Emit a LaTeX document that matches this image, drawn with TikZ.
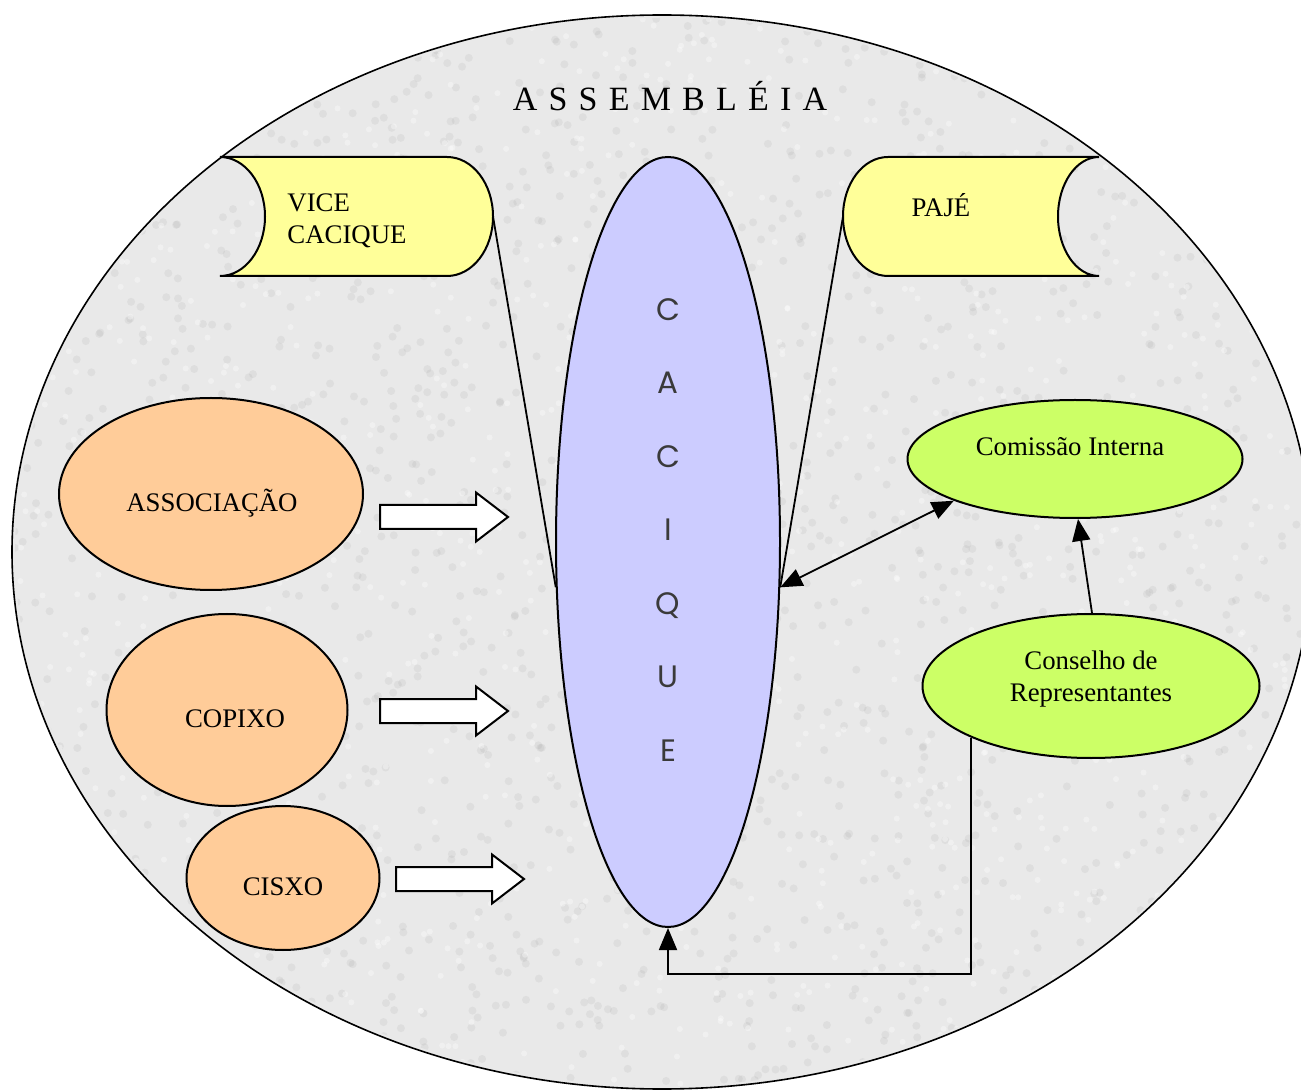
\documentclass[tikz,border=0pt]{standalone}
\usepackage{fontspec}
\setmainfont{Liberation Serif}
\newfontfamily\cacfont{Poppins}
\usetikzlibrary{arrows.meta,shapes.geometric}
\definecolor{assembfill}{HTML}{E9E9E9}
\definecolor{orangefill}{HTML}{FFCC99}
\definecolor{yellowfill}{HTML}{FFFF99}
\definecolor{lavfill}{HTML}{CCCCFF}
\definecolor{greenfill}{HTML}{CCFF66}
\definecolor{cactext}{HTML}{3A3A3A}
\tikzset{
  bigell/.style={ellipse, draw, line width=0.8pt, fill=assembfill, inner sep=0pt},
  orangeell/.style={ellipse, draw, line width=1pt, fill=orangefill, inner sep=0pt},
  greenell/.style={ellipse, draw, line width=1pt, fill=greenfill, inner sep=0pt},
  cacell/.style={ellipse, draw, line width=1pt, fill=lavfill, inner sep=0pt},
  scrollbox/.style={draw, line width=1pt, fill=yellowfill},
  blockarrow/.style={draw, line width=1pt, fill=white, line join=miter},
  conn/.style={draw, line width=0.9pt},
  tri/.tip={Triangle[length=11pt,width=9pt]},
  tip/.style={-tri},
  lbl/.style={font=\fontsize{13.4}{16}\selectfont, inner sep=0pt, align=center},
}
\begin{document}
\begin{tikzpicture}[x=0.5pt,y=-0.5pt]
\useasboundingbox (0,0) rectangle (1301,1090);
\clip (0,0) rectangle (1301,1090);

% assembly
\node[bigell, minimum width=650pt, minimum height=537pt] (assembly) at (662,552) {};
% granite texture
\begin{scope}
  \path[clip] (662,552) ellipse [x radius=647, y radius=534];
  \pgfmathsetseed{7}
  \foreach \i in {1,...,1800}{
    \fill[gray, opacity=0.10] (rnd*1301, rnd*1090) circle (4);
  }
  \foreach \i in {1,...,1200}{
    \fill[white, opacity=0.35] (rnd*1301, rnd*1090) circle (3);
  }
\end{scope}
\node[inner sep=0pt, font=\fontsize{17}{20}\selectfont] (asstext) at (670,96)
  {A\kern5.6pt S\kern5.6pt S\kern5.6pt E\kern5.6pt M\kern5.6pt B\kern5.6pt L\kern5.6pt É\kern5.6pt I\kern5.6pt A};

% anchor coordinates on the scrolls
\coordinate (vcR) at (493,216.5);
\coordinate (pjL) at (843,216.5);

% cacique
\node[cacell, minimum width=112pt, minimum height=385pt] (cac) at (668,542) {};
\node[inner sep=0pt, align=center, text=cactext,
      font=\cacfont\fontsize{15.5}{36.75}\selectfont] (cactxt) at (668,530)
  {C\\A\\C\\I\\Q\\U\\E};

% lines from the scrolls to the cacique
\draw[conn] (vcR) -- (cac.202.5);
\draw[conn] (pjL) -- (cac.-22.5);

% vice cacique scroll
\path[scrollbox] (220,157) -- (447,157)
  .. controls (472.4,157) and (493,183.6) .. (493,216.5)
  .. controls (493,249.4) and (472.4,276) .. (447,276)
  -- (220,276)
  .. controls (244.9,276) and (265,249.4) .. (265,216.5)
  .. controls (265,183.6) and (244.9,157) .. (220,157) -- cycle;
\node[lbl, anchor=west, align=left] (vctext) at (287,221) {VICE\\CACIQUE};

% paje scroll
\path[scrollbox] (888,157) -- (1099,157)
  .. controls (1076.4,157) and (1058,183.6) .. (1058,216.5)
  .. controls (1058,249.4) and (1076.4,276) .. (1099,276)
  -- (888,276)
  .. controls (863.1,276) and (843,249.4) .. (843,216.5)
  .. controls (843,183.6) and (863.1,157) .. (888,157) -- cycle;
\node[lbl] (pjtext) at (941,205) {PAJÉ};

% orange ellipses
\node[orangeell, minimum width=152pt, minimum height=96pt] (assoc) at (211,494) {};
\node[lbl] (assoctext) at (212,503) {ASSOCIAÇÃO};
\node[orangeell, minimum width=120.5pt, minimum height=96pt] (copixo) at (227,710) {};
\node[lbl] (copixotext) at (235,719) {COPIXO};
\node[orangeell, minimum width=96.5pt, minimum height=72pt] (cisxo) at (283,878) {};
\node[lbl] (cisxotext) at (283,887) {CISXO};

% block arrows
\foreach \x/\y in {380/517, 380/711, 396/879}{
  \path[blockarrow, shift={(\x,\y)}] (0,-12) -- (96,-12) -- (96,-24.5) -- (128,0)
     -- (96,24.5) -- (96,12) -- (0,12) -- cycle;
}

% green ellipses
\node[greenell, minimum width=167.5pt, minimum height=59pt] (com) at (1075,459) {};
\node[lbl] (comtext) at (1070,447) {Comissão Interna};
\node[greenell, minimum width=168.5pt, minimum height=72pt] (consel) at (1091,686) {};
\node[lbl] (conseltext) at (1091,679) {Conselho de\\Representantes};

% connectors
\draw[conn, tri-tri] (cac.-22.5) -- (com.199.7);
\draw[conn, tip] ([xshift=0.5pt]consel.north) -- ([xshift=1.5pt]com.south);
\coordinate (bend) at (668,974);
\draw[conn, tip] (consel.south west) |- (bend) -- (cac.south);
\end{tikzpicture}
\end{document}
